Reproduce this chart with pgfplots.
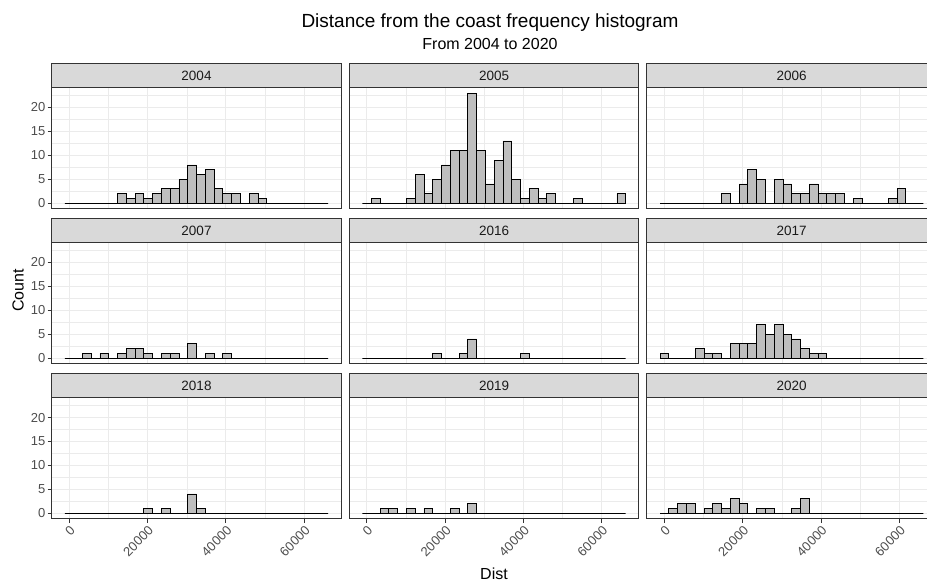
\documentclass[border=0pt]{standalone}
\usepackage{fontspec}
\setmainfont{Liberation Sans}
\usepackage{pgfplots}
\usepackage{pgfplotstable}
\pgfplotsset{compat=1.18}
\definecolor{grey10}{HTML}{1A1A1A}
\definecolor{grey20}{HTML}{333333}
\definecolor{grey30}{HTML}{4D4D4D}
\definecolor{grey85}{HTML}{D9D9D9}
\definecolor{grey92}{HTML}{EBEBEB}
\definecolor{barfill}{HTML}{BEBEBE}

% left bin edges (30 bins, width 2241) and counts per facet; last row closes the last bin
\pgfplotstableread{
x      y2004 y2005 y2006 y2007 y2016 y2017 y2018 y2019 y2020
-1141  0     0     0     0     0     1     0     0     0
1100   0     1     0     0     0     0     0     0     1
3341   0     0     0     1     0     0     0     1     2
5582   0     0     0     0     0     0     0     1     2
7823   0     0     0     1     0     2     0     0     0
10064  0     1     0     0     0     1     0     1     1
12305  2     6     0     1     0     1     0     0     2
14546  1     2     2     2     0     0     0     1     1
16787  2     5     0     2     1     3     0     0     3
19028  1     8     4     1     0     3     1     0     2
21269  2     11    7     0     0     3     0     1     0
23510  3     11    5     1     1     7     1     0     1
25751  3     23    0     1     4     5     0     2     1
27992  5     11    5     0     0     7     0     0     0
30233  8     4     4     3     0     5     4     0     0
32474  6     9     2     0     0     4     1     0     1
34715  7     13    2     1     0     2     0     0     3
36956  3     5     4     0     0     1     0     0     0
39197  2     1     2     1     1     1     0     0     0
41438  2     3     2     0     0     0     0     0     0
43679  0     1     2     0     0     0     0     0     0
45920  2     2     0     0     0     0     0     0     0
48161  1     0     1     0     0     0     0     0     0
50402  0     0     0     0     0     0     0     0     0
52643  0     1     0     0     0     0     0     0     0
54884  0     0     0     0     0     0     0     0     0
57125  0     0     1     0     0     0     0     0     0
59366  0     0     3     0     0     0     0     0     0
61607  0     0     0     0     0     0     0     0     0
63848  0     2     0     0     0     0     0     0     0
66089  0     0     0     0     0     0     0     0     0
}\hist

\pgfplotsset{
  panelstyle/.style={
    scale only axis, width=289.6pt, height=120.9pt, anchor=north west,
    xmin=-4502.5, xmax=69450.5, ymin=-1.15, ymax=24.15,
    xtick={0,20000,40000,60000}, minor xtick={10000,30000,50000},
    ytick={0,5,10,15,20}, minor ytick={2.5,7.5,12.5,17.5,22.5},
    grid=both,
    major grid style={draw=grey92, line width=1.0pt},
    minor grid style={draw=grey92, line width=0.5pt},
    axis line style={draw=grey20, line width=1.0pt},
    tick align=outside, major tick length=4.2pt, minor tick length=0pt,
    tick style={draw=grey20, line width=1.0pt},
    xtick pos=bottom, ytick pos=left,
    xticklabels={}, yticklabels={},
    scaled x ticks=false, scaled y ticks=false,
    tick label style={font=\fontsize{13}{14}\selectfont, text=grey30},
  },
  innerx/.style={xtick style={draw=none}},
  innery/.style={ytick style={draw=none}},
  bottomrow/.style={xticklabels={0,20000,40000,60000},
    x tick label style={rotate=45, anchor=north east, inner sep=1.5pt}},
  leftcol/.style={yticklabels={0,5,10,15,20},
    y tick label style={inner sep=2pt}},
}

\newcommand{\panel}[5]{%
  \begin{axis}[panelstyle, at={(#1pt,#2pt)}, #5]
    \addplot[ybar interval, fill=barfill, draw=black, line width=0.7pt] table[x=x, y=#3] {\hist};
  \end{axis}
  \draw[draw=grey20, fill=grey85, line width=1.0pt] (#1pt,#2pt) rectangle ++(289.6pt,24.4pt);
  \node[font=\fontsize{13.5}{15}\selectfont, text=grey10] at ({#1pt+144.8pt},{#2pt+12.2pt}) {#4};
}

\begin{document}
\begin{tikzpicture}
\useasboundingbox (0pt,0pt) rectangle (927pt,583pt);
\panel{51.7}{495.3}{y2004}{2004}{innerx, leftcol}
\panel{349.3}{495.3}{y2005}{2005}{innerx, innery}
\panel{646.9}{495.3}{y2006}{2006}{innerx, innery}
\panel{51.7}{340.3}{y2007}{2007}{innerx, leftcol}
\panel{349.3}{340.3}{y2016}{2016}{innerx, innery}
\panel{646.9}{340.3}{y2017}{2017}{innerx, innery}
\panel{51.7}{185.3}{y2018}{2018}{bottomrow, leftcol}
\panel{349.3}{185.3}{y2019}{2019}{bottomrow, innery}
\panel{646.9}{185.3}{y2020}{2020}{bottomrow, innery}
\node[anchor=base, font=\fontsize{19}{21}\selectfont, text=black] at (490pt,555.5pt) {Distance from the coast frequency histogram};
\node[anchor=base, font=\fontsize{16}{18}\selectfont, text=black] at (490pt,533.7pt) {From 2004 to 2020};
\node[rotate=90, font=\fontsize{16}{18}\selectfont, text=black] at (18pt,292.5pt) {Count};
\node[anchor=base, font=\fontsize{16}{18}\selectfont, text=black] at (494pt,3pt) {Dist};
\end{tikzpicture}
\end{document}
